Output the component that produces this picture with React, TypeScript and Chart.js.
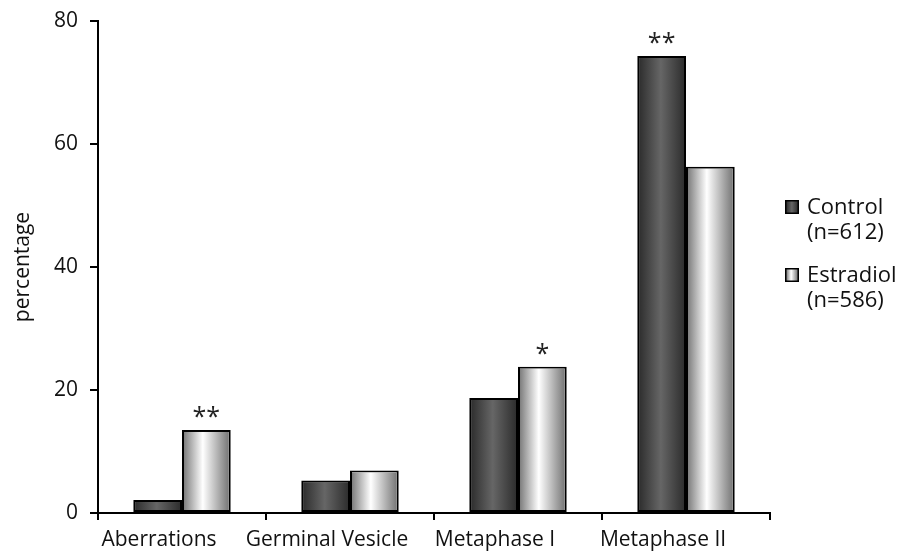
import React, { useEffect, useRef } from 'react';
import { Chart, registerables } from 'chart.js';

Chart.register(...registerables);

const categories = ['Aberrations', 'Germinal Vesicle', 'Metaphase I', 'Metaphase II'];
const controlValues = [2.1, 5.3, 18.7, 74.3];
const estradiolValues = [13.5, 6.9, 23.8, 56.3];
const controlSig = ['', '', '', '**'];
const estradiolSig = ['**', '', '*', ''];
const controlLegend = ['Control', '(n=612)'];
const estradiolLegend = ['Estradiol', '(n=586)'];
const yMin = 0;
const yMax = 80;
const yStep = 20;

const FONT = '"Open Sans", "Noto Sans", sans-serif';

const gradientStops: Array<Array<[number, string]>> = [
  [[0, '#2f2f2f'], [0.48, '#666666'], [1, '#2f2f2f']],
  [[0, '#7e7e7e'], [0.42, '#ffffff'], [1, '#787878']],
];

function makeGradient(ctx: CanvasRenderingContext2D, x0: number, x1: number, stops: Array<[number, string]>) {
  const g = ctx.createLinearGradient(x0, 0, x1, 0);
  stops.forEach(([o, c]) => g.addColorStop(o, c));
  return g;
}

const barStylePlugin = {
  id: 'barStyle',
  afterDatasetsDraw(chart: any) {
    const ctx: CanvasRenderingContext2D = chart.ctx;
    chart.data.datasets.forEach((ds: any, di: number) => {
      const meta = chart.getDatasetMeta(di);
      meta.data.forEach((el: any, i: number) => {
        const { x, y, base, width } = el.getProps(['x', 'y', 'base', 'width'], true);
        const bw = ds.borderWidth || 0;
        const left = x - width / 2;
        const top = Math.min(y, base);
        const h = Math.abs(base - y);
        ctx.save();
        ctx.fillStyle = makeGradient(ctx, left + bw, left + width - bw, gradientStops[di]);
        ctx.fillRect(left + bw, top + bw, width - 2 * bw, h - 2 * bw);
        ctx.restore();
        const sig = ds.sig ? ds.sig[i] : '';
        if (sig) {
          ctx.save();
          ctx.font = `25px ${FONT}`;
          ctx.fillStyle = '#222';
          ctx.textAlign = 'center';
          ctx.textBaseline = 'alphabetic';
          ctx.fillText(sig, x, top - 5);
          ctx.restore();
        }
      });
    });
  },
  afterDraw(chart: any) {
    const ctx: CanvasRenderingContext2D = chart.ctx;
    const area = chart.chartArea;
    const boxX = area.right + 15;
    const boxSize = 14;
    const textX = boxX + 22;
    const entries = [
      { lines: controlLegend, top: area.top + 179 },
      { lines: estradiolLegend, top: area.top + 247 },
    ];
    entries.forEach((e, di) => {
      ctx.save();
      ctx.fillStyle = '#000';
      ctx.fillRect(boxX, e.top, boxSize, boxSize);
      ctx.fillStyle = makeGradient(ctx, boxX + 1.5, boxX + boxSize - 1.5, gradientStops[di]);
      ctx.fillRect(boxX + 1.5, e.top + 1.5, boxSize - 3, boxSize - 3);
      ctx.font = `22px ${FONT}`;
      ctx.fillStyle = '#111';
      ctx.textAlign = 'left';
      ctx.textBaseline = 'alphabetic';
      e.lines.forEach((line, li) => {
        ctx.fillText(line, textX, e.top + 14 + li * 25);
      });
      ctx.restore();
    });
  },
};

export default function App() {
  const canvasRef = useRef<HTMLCanvasElement | null>(null);

  useEffect(() => {
    if (!canvasRef.current) return;
    const chart = new Chart(canvasRef.current, {
      type: 'bar',
      data: {
        labels: categories,
        datasets: [
          {
            label: controlLegend.join(' '),
            data: controlValues,
            backgroundColor: '#555555',
            borderColor: '#000000',
            borderWidth: 2,
            borderSkipped: false,
            categoryPercentage: 0.58,
            barPercentage: 1,
            sig: controlSig,
          } as any,
          {
            label: estradiolLegend.join(' '),
            data: estradiolValues,
            backgroundColor: '#dddddd',
            borderColor: '#000000',
            borderWidth: 2,
            borderSkipped: false,
            categoryPercentage: 0.58,
            barPercentage: 1,
            sig: estradiolSig,
          } as any,
        ],
      },
      options: {
        animation: false,
        responsive: true,
        maintainAspectRatio: false,
        layout: { padding: { top: 21, right: 135, bottom: 0, left: 0 } },
        plugins: {
          legend: { display: false },
          tooltip: { enabled: false },
        },
        scales: {
          x: {
            offset: true,
            grid: {
              offset: true,
              drawOnChartArea: false,
              drawTicks: true,
              tickLength: 7,
              color: '#000',
              lineWidth: 2,
            },
            border: { display: true, color: '#000', width: 2 },
            ticks: {
              color: '#111',
              font: { family: FONT, size: 21 },
              padding: 7,
              labelOffset: -23,
              maxRotation: 0,
              autoSkip: false,
            },
            afterFit: (scale: any) => {
              scale.height = 43;
            },
          },
          y: {
            min: yMin,
            max: yMax,
            grid: {
              drawOnChartArea: false,
              drawTicks: true,
              tickLength: 8,
              color: '#000',
              lineWidth: 2,
            },
            border: { display: true, color: '#000', width: 2 },
            ticks: {
              stepSize: yStep,
              color: '#111',
              font: { family: FONT, size: 21 },
              padding: 12,
            },
            title: {
              display: true,
              text: 'percentage',
              color: '#111',
              font: { family: FONT, size: 21 },
              padding: { top: 10, bottom: 0 },
            },
            afterFit: (scale: any) => {
              scale.width = 98;
              scale.paddingTop = 0;
              scale.paddingBottom = 0;
            },
          },
        },
      },
      plugins: [barStylePlugin],
    });
    return () => chart.destroy();
  }, []);

  return (
    <div style={{ position: 'fixed', left: 0, top: 0, width: 905, height: 556, background: '#fff' }}>
      <canvas ref={canvasRef} />
    </div>
  );
}
